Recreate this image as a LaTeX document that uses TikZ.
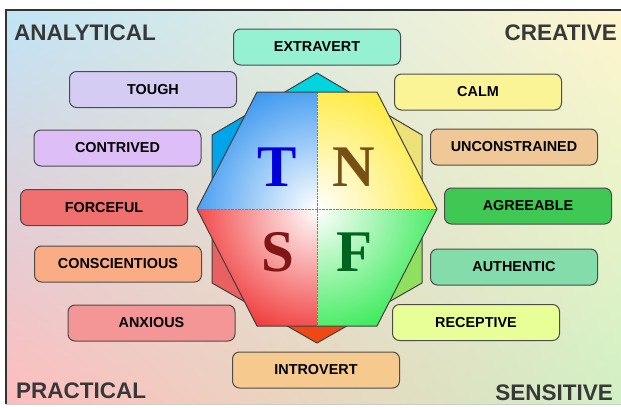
\documentclass[tikz,border=0pt]{standalone}
\usepackage{fontspec}
\usetikzlibrary{shadings}
\newfontfamily\traitfont{Liberation Sans}
\newfontfamily\letterfont{Liberation Serif}

% background corners
\definecolor{bgtl}{RGB}{192,228,246}
\definecolor{bgtr}{RGB}{255,246,205}
\definecolor{bgbl}{RGB}{255,188,188}
\definecolor{bgbr}{RGB}{208,240,196}
% box fills
\definecolor{mint}{RGB}{150,240,210}
\definecolor{lavender}{RGB}{212,204,242}
\definecolor{lilac}{RGB}{222,190,246}
\definecolor{salmon}{RGB}{240,112,112}
\definecolor{peach}{RGB}{250,172,132}
\definecolor{rose}{RGB}{245,150,150}
\definecolor{sand}{RGB}{246,202,142}
\definecolor{lemon}{RGB}{250,244,150}
\definecolor{tan}{RGB}{240,200,152}
\definecolor{leaf}{RGB}{64,200,84}
\definecolor{seafoam}{RGB}{132,220,170}
\definecolor{lime}{RGB}{232,255,152}
% hexagon colours
\definecolor{hexblue}{RGB}{0,120,235}
\definecolor{hexyellow}{RGB}{255,228,0}
\definecolor{hexred}{RGB}{236,0,0}
\definecolor{hexgreen}{RGB}{0,228,40}
\definecolor{backcyan}{RGB}{0,212,222}
\definecolor{backblue}{RGB}{0,164,232}
\definecolor{backyellow}{RGB}{236,226,120}
\definecolor{backred}{RGB}{232,96,96}
\definecolor{backgreen}{RGB}{144,224,96}
\definecolor{backorange}{RGB}{240,72,20}

\begin{document}
\begin{tikzpicture}[x=1pt,y=-1pt,
  trait/.style={draw=black!70,line width=1pt,rounded corners=7pt,
    minimum width=167pt,minimum height=36pt,inner sep=0pt,
    font=\traitfont\bfseries\fontsize{14.4}{15}\selectfont,text=black},
  corner/.style={inner sep=0pt,text=black!78,
    font=\traitfont\bfseries\fontsize{22.5}{24}\selectfont},
  letter/.style={inner sep=0pt,font=\letterfont\bfseries\fontsize{59}{59}\selectfont},
  hexline/.style={draw=black!75,line width=1pt,line join=round}]
\useasboundingbox (0,0) rectangle (621,407);
\fill[white] (0,0) rectangle (621,407);
\shade[upper left=bgtl,upper right=bgtr,lower left=bgbl,lower right=bgbr]
  (6,10) rectangle (621,404);
\draw[black!80,line width=1.2pt] (621,10)--(6,10)--(6,404);
\draw[black!20,line width=1pt] (6,404)--(621,404);

% hexagon behind
\begin{scope}
\clip (317,73)--(422,135)--(422,283)--(317,343)--(212,283)--(212,135)--cycle;
\fill[backblue] (200,60) rectangle (317,209);
\fill[backyellow] (317,60) rectangle (430,209);
\fill[backred] (200,209) rectangle (317,350);
\fill[backgreen] (317,209) rectangle (430,350);
\fill[backcyan] (200,60) rectangle (430,93);
\fill[backorange] (200,325) rectangle (430,350);
\end{scope}
\draw[hexline] (317,73)--(422,135)--(422,283)--(317,343)--(212,283)--(212,135)--cycle;

% front hexagon, one quadrant per type, pale at the middle
\begin{scope}
\clip (197,209)--(257,92)--(317,92)--(317,209)--cycle;
\shade[inner color=white,outer color=hexblue] (317,209) circle (170);
\end{scope}
\begin{scope}
\clip (317,92)--(377,92)--(437,209)--(317,209)--cycle;
\shade[inner color=white,outer color=hexyellow] (317,209) circle (170);
\end{scope}
\begin{scope}
\clip (197,209)--(317,209)--(317,326)--(257,326)--cycle;
\shade[inner color=white,outer color=hexred] (317,209) circle (170);
\end{scope}
\begin{scope}
\clip (317,209)--(437,209)--(377,326)--(317,326)--cycle;
\shade[inner color=white,outer color=hexgreen] (317,209) circle (170);
\end{scope}
\draw[black!50,densely dotted] (317,92)--(317,326) (197,209)--(437,209);
\draw[hexline] (257,92)--(377,92)--(437,209)--(377,326)--(257,326)--(197,209)--cycle;

\node[letter,text={rgb,255:red,0;green,0;blue,220}] (T) at (277,167) {T};
\node[letter,text={rgb,255:red,118;green,80;blue,20}] (N) at (354,167) {N};
\node[letter,text={rgb,255:red,128;green,22;blue,22}] (S) at (278,252) {S};
\node[letter,text={rgb,255:red,0;green,100;blue,32}] (F) at (355,252) {F};

% trait boxes
\node[trait,fill=mint] (extravert) at (317,47) {EXTRAVERT};
\node[trait,fill=lavender] (tough) at (153,89.5) {TOUGH};
\node[trait,fill=lemon] (calm) at (478,92) {CALM};
\node[trait,fill=lilac] (contrived) at (117.5,148) {CONTRIVED};
\node[trait,fill=tan] (unconstrained) at (514,147) {UNCONSTRAINED};
\node[trait,fill=salmon] (forceful) at (104,207.5) {FORCEFUL};
\node[trait,fill=leaf] (agreeable) at (528,206) {AGREEABLE};
\node[trait,fill=peach] (conscientious) at (118,264) {CONSCIENTIOUS};
\node[trait,fill=seafoam] (authentic) at (514,267) {AUTHENTIC};
\node[trait,fill=rose] (anxious) at (151.5,323) {ANXIOUS};
\node[trait,fill=lime] (receptive) at (476,322.5) {RECEPTIVE};
\node[trait,fill=sand] (introvert) at (316,370) {INTROVERT};

% quadrant names
\node[corner,anchor=base west] (analytical) at (14,40) {ANALYTICAL};
\node[corner,anchor=base east] (creative) at (617,40) {CREATIVE};
\node[corner,anchor=base west] (practical) at (16,398) {PRACTICAL};
\node[corner,anchor=base east] (sensitive) at (613,400) {SENSITIVE};
\end{tikzpicture}
\end{document}
